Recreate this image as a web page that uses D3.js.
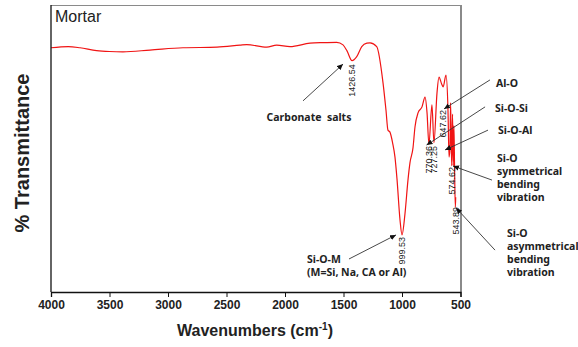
<!DOCTYPE html>
<html>
<head>
<meta charset="utf-8">
<script src="https://cdn.jsdelivr.net/npm/d3@7"></script>
<style>
  html, body { margin: 0; padding: 0; background: #fff; }
  svg { display: block; }
</style>
</head>
<body>
<svg id="chart" width="578" height="347"></svg>
<script>
// spectrum (wavenumber in cm-1, % transmittance in arbitrary units)
const wavenumbers = [4000, 3852, 3752, 3610, 3500, 3385, 3154, 2872, 2581, 2385, 2327, 2156, 2071, 1957,
  1786, 1675, 1558, 1504, 1470, 1427, 1387, 1344, 1300, 1273, 1216, 1162, 1137, 1120, 1103, 1080,
  1060, 1043, 1017, 1000, 974, 949, 932, 906, 889, 863, 829, 803, 786, 770, 744, 727, 701, 684,
  661, 648, 624, 607, 598, 590, 585, 580, 575, 568, 562, 556, 550, 544, 541];
const transmittance = [85.1, 85.5, 85.1, 84.1, 83.8, 83.7, 84.3, 85.1, 85.3, 86.0, 86.2, 85.3, 86.0, 85.5,
  86.7, 86.9, 87.0, 86.1, 84.0, 80.6, 82.0, 85.5, 86.7, 86.8, 85.5, 72.8, 63.4, 56.4, 55.7, 51.9,
  47.0, 39.5, 25.1, 19.9, 27.5, 39.0, 45.0, 50.2, 57.5, 62.4, 64.5, 67.9, 62.4, 51.5, 65.2, 52.0, 69.3, 74.9,
  72.5, 71.5, 75.6, 63.4, 47.0, 50.0, 65.9, 55.0, 44.0, 62.0, 44.0, 58.0, 41.0, 29.6, 33.0];

const xTicks = [4000, 3500, 3000, 2500, 2000, 1500, 1000, 500];

const peakValues = [1426.54, 999.53, 770.36, 727.25, 647.62, 574.62, 543.89];
const peakLabelTop = [79.4, 19.2, 50.9, 50.9, 63.4, 43.6, 29.6];

const annoLabels = [
  ['Carbonate  salts'],
  ['Si-O-M', '(M=Si, Na, CA or Al)'],
  ['Al-O'],
  ['Si-O-Si'],
  ['Si-O-Al'],
  ['Si-O', 'symmetrical', 'bending', 'vibration'],
  ['Si-O', 'asymmetrical', 'bending', 'vibration']
];
const annoTips = [[1504, 79.4], [1051, 19.9], [641, 63.8], [790, 51.2], [632, 49.5], [564, 43.9], [538, 29.3]];
const annoTails = [[1846, 66.6], [1453, 11.5], [248, 73.9], [290, 64.5], [265, 56.4], [231, 39.0], [205, 14.6]];
// text offset from arrow tail, in px
const annoOffsets = [[6, 20, 'middle'], [-42, 4, 'start'], [6, 7, 'start'], [10, 5, 'start'],
  [10, 4, 'start'], [5, -18, 'start'], [12, -13, 'start']];

const svg = d3.select('#chart');
const plotLeft = 51, plotRight = 460.5, plotTop = 5, plotBottom = 292;

const x = d3.scaleLinear().domain([4000, 500]).range([plotLeft, plotRight]);
const y = d3.scaleLinear().domain([0, 100]).range([plotBottom, plotTop]);

svg.append('rect').attr('width', 578).attr('height', 347).attr('fill', '#fff');

const defs = svg.append('defs');
defs.append('marker')
  .attr('id', 'arrow')
  .attr('viewBox', '0 -5 10 10')
  .attr('refX', 10)
  .attr('markerWidth', 6)
  .attr('markerHeight', 6)
  .attr('markerUnits', 'userSpaceOnUse')
  .attr('orient', 'auto')
  .append('path')
  .attr('d', 'M0,-4.5L10,0L0,4.5Z')
  .attr('fill', '#111');

// frame: top and right in grey
svg.append('line')
  .attr('x1', plotLeft).attr('x2', plotRight).attr('y1', plotTop + 0.5).attr('y2', plotTop + 0.5)
  .attr('stroke', '#8a8a8a').attr('stroke-width', 1.2);
svg.append('line')
  .attr('x1', plotRight + 0.5).attr('x2', plotRight + 0.5).attr('y1', plotTop).attr('y2', plotBottom)
  .attr('stroke', '#8a8a8a').attr('stroke-width', 2);

// spectrum
const line = d3.line()
  .x((d, i) => x(wavenumbers[i]))
  .y(d => y(d))
  .curve(d3.curveMonotoneX);

svg.append('path')
  .datum(transmittance)
  .attr('d', line)
  .attr('fill', 'none')
  .attr('stroke', '#f01414')
  .attr('stroke-width', 1.2);

// axes
const xAxis = d3.axisBottom(x).tickValues(xTicks).tickSize(5).tickPadding(3).tickFormat(d3.format('d'));
const gx = svg.append('g').attr('transform', `translate(0,${plotBottom})`).call(xAxis);
gx.select('.domain').attr('stroke', '#111').attr('stroke-width', 1.3);
gx.selectAll('.tick line').attr('stroke', '#111').attr('stroke-width', 1);
gx.selectAll('.tick text')
  .attr('font-family', 'Liberation Sans, Arial, sans-serif')
  .attr('font-weight', 'bold')
  .attr('font-size', 12)
  .attr('fill', '#222');

svg.append('line')
  .attr('x1', plotLeft).attr('x2', plotLeft).attr('y1', plotTop).attr('y2', plotBottom)
  .attr('stroke', '#111').attr('stroke-width', 1.3);

// titles
svg.append('text')
  .attr('x', plotLeft + 4).attr('y', 22)
  .attr('font-family', 'Liberation Sans, Arial, sans-serif')
  .attr('font-size', 16)
  .attr('fill', '#222')
  .text('Mortar');

const xl = svg.append('text')
  .attr('x', 255).attr('y', 336)
  .attr('text-anchor', 'middle')
  .attr('font-family', 'Liberation Sans, Arial, sans-serif')
  .attr('font-weight', 'bold')
  .attr('font-size', 16)
  .attr('fill', '#222');
xl.append('tspan').text('Wavenumbers (cm');
xl.append('tspan').attr('font-size', 10).attr('dy', -6).text('-1');
xl.append('tspan').attr('dy', 6).text(')');

svg.append('text')
  .attr('transform', 'translate(29,153) rotate(-90)')
  .attr('text-anchor', 'middle')
  .attr('font-family', 'Liberation Sans, Arial, sans-serif')
  .attr('font-weight', 'bold')
  .attr('font-size', 20)
  .attr('fill', '#222')
  .text('% Transmittance');

// peak labels (vertical)
svg.append('g').selectAll('text')
  .data(peakValues)
  .join('text')
  .attr('transform', (d, i) => `translate(${x(d)},${y(peakLabelTop[i])}) rotate(-90)`)
  .attr('text-anchor', 'end')
  .attr('dy', '0.35em')
  .attr('font-family', 'Liberation Sans, Arial, sans-serif')
  .attr('font-size', 9)
  .attr('fill', '#222')
  .text(d => d.toFixed(2));

// annotation arrows
const anno = svg.append('g');
anno.selectAll('line')
  .data(annoLabels)
  .join('line')
  .attr('x1', (d, i) => x(annoTails[i][0]))
  .attr('y1', (d, i) => y(annoTails[i][1]))
  .attr('x2', (d, i) => x(annoTips[i][0]))
  .attr('y2', (d, i) => y(annoTips[i][1]))
  .attr('stroke', '#333')
  .attr('stroke-width', 0.9)
  .attr('marker-end', 'url(#arrow)');

const labels = anno.selectAll('text')
  .data(annoLabels)
  .join('text')
  .attr('x', (d, i) => x(annoTails[i][0]) + annoOffsets[i][0])
  .attr('y', (d, i) => y(annoTails[i][1]) + annoOffsets[i][1])
  .attr('text-anchor', (d, i) => annoOffsets[i][2])
  .attr('font-family', 'Noto Sans, sans-serif')
  .attr('font-weight', 'bold')
  .attr('font-size', 10.5)
  .attr('fill', '#222')
  .style('white-space', 'pre');

labels.each(function (d, i) {
  const t = d3.select(this);
  const x0 = t.attr('x');
  d.forEach((s, j) => {
    t.append('tspan').attr('x', x0).attr('dy', j === 0 ? 0 : 13).text(s);
  });
});
</script>
</body>
</html>
